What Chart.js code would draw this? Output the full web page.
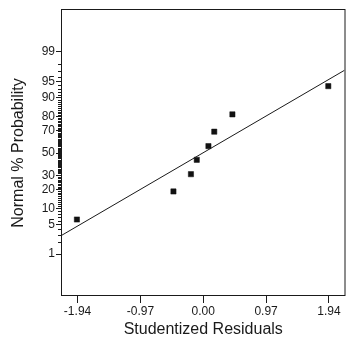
<!DOCTYPE html>
<html>
<head>
<meta charset="utf-8">
<script src="https://cdn.jsdelivr.net/npm/chart.js@4/dist/chart.umd.min.js"></script>
<style>
  html, body { margin: 0; padding: 0; background: #fff; }
  #c { display: block; }
</style>
</head>
<body>
<canvas id="c" width="349" height="345"></canvas>
<script>
// ---- data ----
const residuals = [-1.95, -0.46, -0.19, -0.10, 0.08, 0.17, 0.45, 1.93];
const probabilities = [6.3, 18.8, 31.3, 43.8, 56.3, 68.8, 81.3, 93.8];
const fitLineX = [-2.18, 2.18];
const fitLineP = [2.94, 97.15];
const xTickValues = [-1.94, -0.97, 0.00, 0.97, 1.94];
const yMajorTicks = [1, 5, 10, 20, 30, 50, 70, 80, 90, 95, 99];
const yMinorTicks = [];
for (let p = 1; p <= 99; p++) yMinorTicks.push(p);

// inverse standard normal CDF (probability-scale transform), Acklam's approximation
function probit(pct) {
  const p = pct / 100;
  const a = [-3.969683028665376e+01, 2.209460984245205e+02, -2.759285104469687e+02, 1.383577518672690e+02, -3.066479806614716e+01, 2.506628277459239e+00];
  const b = [-5.447609879822406e+01, 1.615858368580409e+02, -1.556989798598866e+02, 6.680131188771972e+01, -1.328068155288572e+01];
  const c = [-7.784894002430293e-03, -3.223964580411365e-01, -2.400758277161838e+00, -2.549732539343734e+00, 4.374664141464968e+00, 2.938163982698783e+00];
  const d = [7.784695709041462e-03, 3.224671290700398e-01, 2.445134137142996e+00, 3.754408661907416e+00];
  const pl = 0.02425, ph = 1 - pl;
  let q, r;
  if (p < pl) {
    q = Math.sqrt(-2 * Math.log(p));
    return (((((c[0]*q+c[1])*q+c[2])*q+c[3])*q+c[4])*q+c[5]) / ((((d[0]*q+d[1])*q+d[2])*q+d[3])*q+1);
  } else if (p <= ph) {
    q = p - 0.5; r = q * q;
    return (((((a[0]*r+a[1])*r+a[2])*r+a[3])*r+a[4])*r+a[5])*q / (((((b[0]*r+b[1])*r+b[2])*r+b[3])*r+b[4])*r+1);
  } else {
    q = Math.sqrt(-2 * Math.log(1 - p));
    return -(((((c[0]*q+c[1])*q+c[2])*q+c[3])*q+c[4])*q+c[5]) / ((((d[0]*q+d[1])*q+d[2])*q+d[3])*q+1);
  }
}

const pointData = residuals.map((x, i) => ({ x: x, y: probit(probabilities[i]) }));
const lineData = fitLineX.map((x, i) => ({ x: x, y: probit(fitLineP[i]) }));

const INK = '#1a1a1a';
const FONT = "'Liberation Sans', Arial, Helvetica, sans-serif";

const frameAndMinorTicks = {
  id: 'frameAndMinorTicks',
  afterDraw(chart) {
    const ctx = chart.ctx;
    const a = chart.chartArea;
    const ys = chart.scales.y;
    ctx.save();
    ctx.strokeStyle = INK;
    ctx.lineWidth = 1;
    ctx.strokeRect(a.left - 0.5, a.top - 0.5, a.right - a.left + 1, a.bottom - a.top);
    ctx.beginPath();
    yMinorTicks.forEach(p => {
      if (yMajorTicks.includes(p)) return;
      const py = Math.round(ys.getPixelForValue(probit(p))) + 0.5;
      ctx.moveTo(a.left - 4, py);
      ctx.lineTo(a.left, py);
    });
    ctx.stroke();
    ctx.restore();
  }
};

new Chart(document.getElementById('c'), {
  data: {
    datasets: [
      {
        type: 'line',
        data: lineData,
        borderColor: INK,
        borderWidth: 1,
        pointRadius: 0,
        fill: false,
        tension: 0
      },
      {
        type: 'scatter',
        data: pointData,
        pointStyle: 'rect',
        pointRadius: 3.7,
        pointBorderWidth: 0.5,
        backgroundColor: '#111',
        borderColor: '#111'
      }
    ]
  },
  options: {
    responsive: false,
    devicePixelRatio: 1,
    animation: false,
    events: [],
    layout: { padding: { top: 10, right: 1, left: 0, bottom: 0 } },
    plugins: { legend: { display: false }, tooltip: { enabled: false } },
    scales: {
      x: {
        type: 'linear',
        min: -2.18,
        max: 2.18,
        afterFit(scale) { scale.height = 49; },
        afterBuildTicks(scale) { scale.ticks = xTickValues.map(v => ({ value: v })); },
        grid: { display: true, drawOnChartArea: false, drawTicks: true, tickLength: 7, tickColor: INK },
        border: { display: false },
        ticks: {
          autoSkip: false,
          maxRotation: 0,
          padding: 1,
          color: INK,
          font: { family: FONT, size: 12 },
          callback: (v) => Number(v).toFixed(2)
        },
        title: {
          display: true,
          text: 'Studentized Residuals',
          color: INK,
          font: { family: FONT, size: 16 },
          padding: { top: 0, bottom: 6 }
        }
      },
      y: {
        type: 'linear',
        min: -3.29,
        max: 3.29,
        afterFit(scale) { scale.width = 62; },
        afterBuildTicks(scale) { scale.ticks = yMajorTicks.map(p => ({ value: probit(p) })); },
        grid: { display: true, drawOnChartArea: false, drawTicks: true, tickLength: 6, tickColor: INK },
        border: { display: false },
        ticks: {
          autoSkip: false,
          padding: 1,
          color: INK,
          font: { family: FONT, size: 12 },
          callback: (v, i) => String(yMajorTicks[i])
        },
        title: {
          display: true,
          text: 'Normal % Probability',
          color: INK,
          font: { family: FONT, size: 16 },
          padding: { top: 9, bottom: 0 }
        }
      }
    }
  },
  plugins: [frameAndMinorTicks]
});
</script>
</body>
</html>
